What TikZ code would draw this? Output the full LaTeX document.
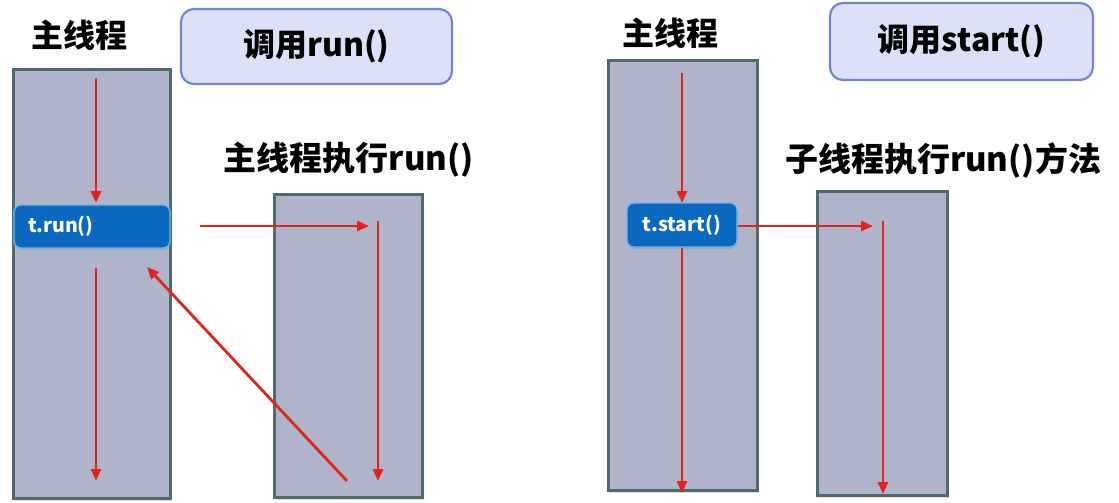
\documentclass[tikz,border=0pt]{standalone}
\usepackage{fontspec}
\setmainfont{Noto Sans CJK SC}
\usetikzlibrary{arrows.meta,shadows}
\definecolor{barfill}{HTML}{AFB4CB}
\definecolor{barline}{HTML}{4D6B6B}
\definecolor{arrowred}{HTML}{E2231A}
\definecolor{callfill}{HTML}{DDE1F8}
\definecolor{callline}{HTML}{6F86D6}
\definecolor{methfill}{HTML}{0A68BE}
\definecolor{methline}{HTML}{6BB8E6}
\tikzset{
  bar/.style={draw=barline, line width=3pt, fill=barfill, inner sep=0pt,
    drop shadow={shadow xshift=2pt, shadow yshift=-3pt, opacity=0.25}},
  callbox/.style={draw=callline, line width=2.2pt, fill=callfill, rounded corners=13pt,
    inner sep=0pt, font=\bfseries\fontsize{32}{36}\selectfont},
  methbox/.style={draw=methline, line width=1.2pt, fill=methfill, rounded corners=7pt,
    inner sep=0pt, text=white, font=\bfseries\fontsize{19.5}{22}\selectfont,
    drop shadow={shadow xshift=1pt, shadow yshift=-2pt, opacity=0.3}},
  title/.style={font=\bfseries\fontsize{32}{35}\selectfont, inner sep=0pt},
  flow/.style={draw=arrowred, line width=2.8pt, -{Triangle[length=12pt,width=10pt]}},
}
\begin{document}
\begin{tikzpicture}[x=1pt,y=-1pt]
\useasboundingbox (0,0) rectangle (1119,503);
% ---------- left: run() ----------
\node[title] (titleL) at (79,35) {主线程};
\node[callbox, minimum width=271pt, minimum height=75pt] (callRun) at (316.5,46.5) {调用run()};
\node[bar, minimum width=157pt, minimum height=428pt] (mainL) at (91.5,284) {};
\node[methbox, minimum width=156pt, minimum height=43pt, text width=128pt, align=left] (tRun) at (92,226.5) {t.run()};
\node[title, font=\bfseries\fontsize{33}{35}\selectfont] (subLabelL) at (349,160) {主线程执行run()};
\node[bar, minimum width=148pt, minimum height=303pt] (subL) at (348,345.5) {};
\coordinate (l1a) at (96,78);   \coordinate (l1b) at (96,203);
\coordinate (l2a) at (96,268);  \coordinate (l2b) at (96,481);
\coordinate (l3a) at (200,226); \coordinate (l3b) at (369,226);
\coordinate (l4a) at (378,221); \coordinate (l4b) at (378,481);
\coordinate (l5a) at (347,481); \coordinate (l5b) at (147,267);
\draw[flow] (l1a) -- (l1b);
\draw[flow] (l2a) -- (l2b);
\draw[flow] (l3a) -- (l3b);
\draw[flow] (l4a) -- (l4b);
\draw[flow] (l5a) -- (l5b);
% ---------- right: start() ----------
\node[title] (titleR) at (670,33) {主线程};
\node[callbox, minimum width=263pt, minimum height=77pt] (callStart) at (961.5,41.5) {调用start()};
\node[bar, minimum width=149pt, minimum height=429pt] (mainR) at (682.5,275.5) {};
\node[title, font=\bfseries\fontsize{33}{35}\selectfont] (subLabelR) at (943,160) {子线程执行run()方法};
\node[bar, minimum width=130pt, minimum height=304pt] (subR) at (882,343) {};
\coordinate (r1a) at (682,73);  \coordinate (r1b) at (682,203);
\coordinate (r2b) at (682,493);
\coordinate (r3b) at (873,226);
\coordinate (r4a) at (883,221); \coordinate (r4b) at (883,494);
\draw[flow] (r1a) -- (r1b);
\draw[flow] (682,247) -- (r2b);
\node[methbox, minimum width=110pt, minimum height=44pt] (tStart) at (682,225) {t.start()};
\draw[flow] (tStart.east |- r3b) -- (r3b);
\draw[flow] (r4a) -- (r4b);
\end{tikzpicture}
\end{document}
